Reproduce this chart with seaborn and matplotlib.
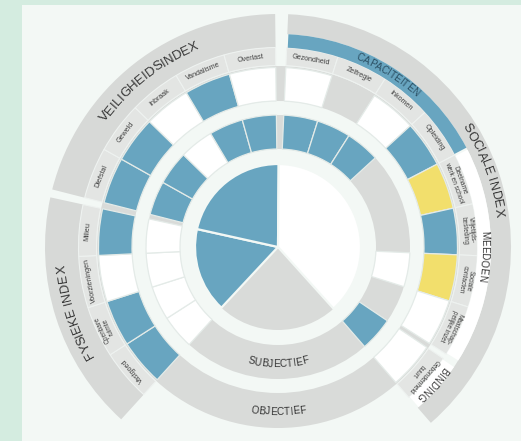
import numpy as np
import pandas as pd
import matplotlib
matplotlib.use("Agg")
import matplotlib.pyplot as plt
import seaborn as sns
from matplotlib.patches import Rectangle
from matplotlib.font_manager import FontProperties
from matplotlib.textpath import TextToPath

# ---------------- data ----------------
index_names = ["FYSIEKE INDEX", "VEILIGHEIDSINDEX", "SOCIALE INDEX"]
index_subjectief = ["beter", "beter", "gelijk"]          # inner pie

fysiek_items = ["Vastgoed", "Openbare\nruimte", "Voorzieningen", "Milieu"]
fysiek_objectief = ["beter", "beter", "gelijk", "beter"]
fysiek_subjectief = ["gelijk", "gelijk", "gelijk", "gelijk"]

veilig_items = ["Diefstal", "Geweld", "Inbraak", "Vandalisme", "Overlast"]
veilig_objectief = ["beter", "beter", "gelijk", "beter", "gelijk"]
veilig_subjectief = ["beter", "beter", "gelijk", "beter", "beter"]

sociaal_items = ["Gezondheid", "Zelfregie", "Inkomen", "Opleiding",
                 "Deelname\nwerk en school", "Vrijetijds-\nbesteding",
                 "Sociale\ncontacten", "Maatschap-\npelijke inzet",
                 "Gebondenheid\nbuurt"]
sociaal_objectief = ["gelijk", "geen", "gelijk", "beter", "slechter",
                     "beter", "slechter", "gelijk", "gelijk"]
sociaal_subjectief = ["beter", "beter", "beter", "geen", "geen",
                      "geen", "gelijk", "geen", "beter"]

sociaal_groepen = ["CAPACITEITEN", "MEEDOEN", "BINDING"]
sociaal_groep_n = [4, 4, 1]
sociaal_groep_status = ["beter", "gelijk", "gelijk"]

ring_labels = ["SUBJECTIEF", "OBJECTIEF"]

# ---------------- style ----------------
sns.set_theme(style="white")
plt.rcParams["font.family"] = ["Liberation Sans", "DejaVu Sans"]

BLUE, WHITE, YELLOW, GREY = sns.color_palette(["#68a5c0", "#ffffff", "#f2df6c", "#d9dbd9"])
palette = dict(zip(["beter", "gelijk", "slechter", "geen"], [BLUE, WHITE, YELLOW, GREY]))
PANEL = "#f3f8f5"
MINT = "#d4ece0"
LABELGREY = "#e3e5e3"
OUTERGREY = "#d7d9d7"
SEP = "#e4ebe8"
TXT = "#353535"

W_PX, H_PX = 521, 441
CX, CY = 278, 247
RMAX = 240

fig = plt.figure(figsize=(W_PX / 100, H_PX / 100), dpi=100)
fig.patch.set_facecolor(MINT)
fig.add_artist(Rectangle((22 / W_PX, 0), (W_PX - 22) / W_PX, (H_PX - 5) / H_PX,
                         transform=fig.transFigure, facecolor=PANEL, edgecolor="none", zorder=0))

ax = fig.add_axes([(CX - RMAX) / W_PX, (H_PX - CY - RMAX) / H_PX,
                   2 * RMAX / W_PX, 2 * RMAX / H_PX], projection="polar")
ax.set_theta_zero_location("N")
ax.set_theta_direction(-1)
ax.set_ylim(0, RMAX)
ax.set_axis_off()
ax.patch.set_alpha(0)

R_PIE = 83
RB = (98, 132)
RC = (146, 181)
RL = (181.5, 199.5)
RO = (199.5, 233)
RSUB = (199.5, 213)
RSOUT = (213, 233)
CELL = 15.0


def wedge(a0, a1, r0, r1, color, ec="none", lw=0.0, z=2):
    ax.bar(np.deg2rad((a0 + a1) / 2), r1 - r0, width=np.deg2rad(a1 - a0), bottom=r0,
           color=color, edgecolor=ec, linewidth=lw, align="center", zorder=z)


def cells(start, n, extra=None):
    out = []
    for i in range(n):
        s = start + CELL * i + (extra.get(i, 0) if extra else 0)
        out.append((s, s + CELL))
    return out


fys_cells = cells(222.3, len(fysiek_items))
veil_cells = cells(284.3, len(veilig_items))
soc_cells = cells(2.5, len(sociaal_items), {8: 1.5})

# background rings
wedge(0, 360, RB[0], RB[1], GREY, z=1)
wedge(0, 360, RC[0], RC[1], GREY, z=1)

# inner pie (subjective index scores)
pie_spans = [(223, 282.5), (282.5, 360.5), (0.5, 138)]
for (a0, a1), st in zip(pie_spans, index_subjectief):
    wedge(a0, a1, 0, R_PIE, palette[st], ec=PANEL, lw=1.6, z=2)
wedge(138, 223, 0, R_PIE, GREY, z=1.5)

tp = TextToPath()


def text_w(s, fs):
    fp = FontProperties(family=["Liberation Sans"], size=fs)
    w, h, d = tp.get_text_width_height_descent(s, fp, ismath=False)
    return w * 100 / 72.0


def arc_text(s, theta_c, r, fs, color=TXT, mode="cw"):
    total = text_w(s, fs)
    for i, ch in enumerate(s):
        if ch == " ":
            continue
        c = (text_w(s[:i], fs) + text_w(s[:i + 1], fs)) / 2.0
        off = np.degrees((c - total / 2.0) / r)
        if mode == "cw":
            th = theta_c + off
            rot = -th
        else:
            th = theta_c - off
            rot = 180 - th
        ax.text(np.deg2rad(th), r, ch, rotation=rot, rotation_mode="anchor",
                ha="center", va="center", fontsize=fs, color=color, zorder=6)


def label_text(s, theta_c):
    fs = 4.7 if "\n" in s else 5.1
    ax.text(np.deg2rad(theta_c), (RL[0] + RL[1]) / 2, s, rotation=-theta_c,
            rotation_mode="anchor", ha="center", va="center", multialignment="center",
            fontsize=fs, color="#404040", linespacing=0.95, zorder=6)


groups = [
    (fys_cells, fysiek_items, fysiek_objectief, fysiek_subjectief),
    (veil_cells, veilig_items, veilig_objectief, veilig_subjectief),
    (soc_cells, sociaal_items, sociaal_objectief, sociaal_subjectief),
]
for cl, items, obj, subj in groups:
    for (a0, a1), name, so, ss in zip(cl, items, obj, subj):
        if so != "geen":
            wedge(a0, a1, RC[0], RC[1] - 1.5, palette[so], ec=SEP, lw=0.9, z=3)
        if ss != "geen":
            wedge(a0, a1, RB[0], RB[1], palette[ss], ec=SEP, lw=0.9, z=3)
        wedge(a0, a1, RL[0], RL[1], LABELGREY, ec="#eef2f0", lw=0.8, z=3)
        label_text(name, (a0 + a1) / 2)

# outer index bands
wedge(fys_cells[0][0], fys_cells[-1][1], RO[0], RO[1], OUTERGREY, z=2)
wedge(veil_cells[0][0], veil_cells[-1][1], RO[0], RO[1], OUTERGREY, z=2)
wedge(soc_cells[0][0], soc_cells[-1][1], RSOUT[0], RSOUT[1], OUTERGREY, z=2)

k = 0
sub_centers = []
for g, n, st in zip(sociaal_groepen, sociaal_groep_n, sociaal_groep_status):
    a0 = soc_cells[k][0]
    a1 = soc_cells[k + n - 1][1]
    wedge(a0 + 0.3, a1 - 0.3, RSUB[0], RSUB[1], palette[st], z=3)
    sub_centers.append((a0 + a1) / 2)
    k += n

# texts on arcs
arc_text(index_names[0], 252.3, 216.5, 9.3, mode="cw")
arc_text(index_names[1], 322.0, 216.5, 9.5, mode="cw")
arc_text(index_names[2], 69.5, 223.0, 9.3, mode="cw")
arc_text(sociaal_groepen[0], sub_centers[0], 206.3, 7.2, color="#2b4f63", mode="cw")
arc_text(sociaal_groepen[1], sub_centers[1], 206.3, 7.2, mode="cw")
arc_text(sociaal_groepen[2], sub_centers[2], 206.3, 7.0, mode="cw")
arc_text(ring_labels[0], 180, 117, 7.2, mode="ccw")
arc_text(ring_labels[1], 180, 165, 7.2, mode="ccw")

fig.savefig("out.png", dpi=100, facecolor=fig.get_facecolor())
